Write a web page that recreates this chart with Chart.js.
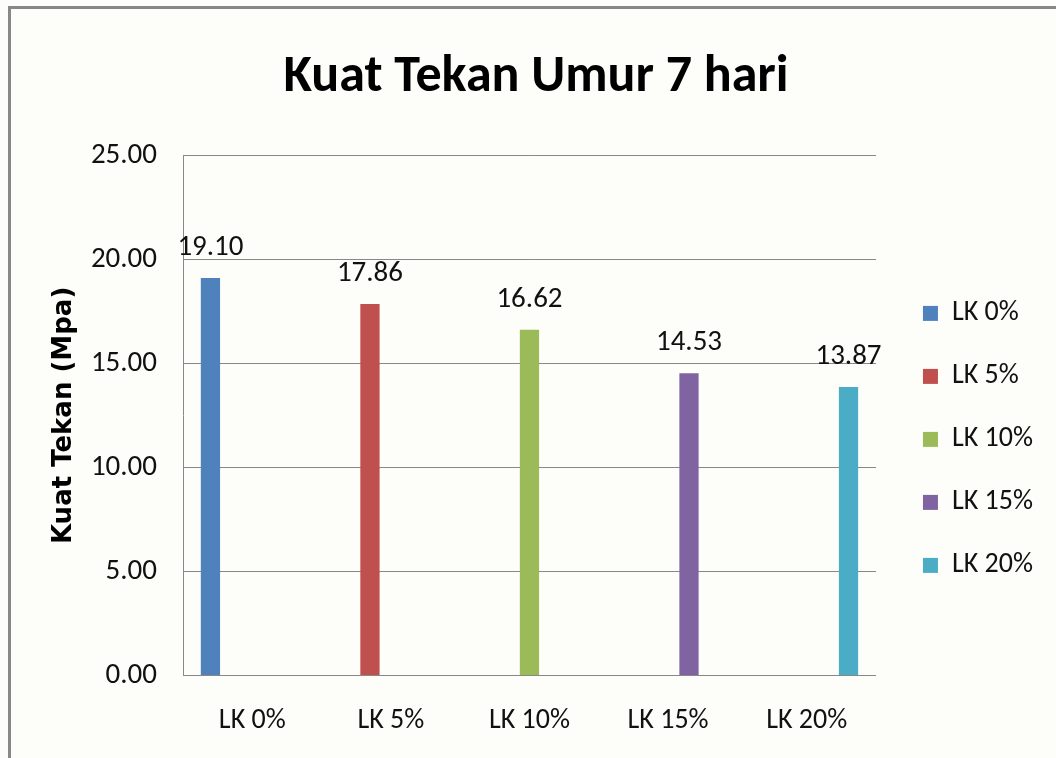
<!DOCTYPE html>
<html>
<head>
<meta charset="utf-8">
<script src="https://cdn.jsdelivr.net/npm/chart.js@4.4.1/dist/chart.umd.min.js"></script>
<style>
  html, body { margin: 0; padding: 0; background: #fdfdf9; overflow: hidden; }
  #wrap { position: relative; width: 1056px; height: 758px; }
  #frame { position: absolute; left: 8px; top: 6px; width: 1100px; height: 800px;
           border-left: 3px solid #888; border-top: 3px solid #888; }
  canvas { position: absolute; left: 0; top: 0; }
</style>
</head>
<body>
<div id="wrap">
  <div id="frame"></div>
  <canvas id="myBarChart" width="1056" height="758"></canvas>
</div>
<script>
// Data grafik
const categories = ['LK 0%', 'LK 5%', 'LK 10%', 'LK 15%', 'LK 20%'];
const values = [19.10, 17.86, 16.62, 14.53, 13.87];
const colors = ['#4f81bd', '#c0504d', '#9bbb59', '#8064a2', '#4bacc6'];
const yTicks = [0, 5, 10, 15, 20, 25];

const narrow = 'Carlito, "Liberation Sans Narrow", "DejaVu Sans Condensed", sans-serif';

// Tiap seri hanya punya nilai di kategorinya sendiri (seperti Excel clustered)
const datasets = categories.map((name, i) => ({
    label: name,
    data: categories.map((c, j) => (j === i ? values[i] : null)),
    backgroundColor: colors[i],
    categoryPercentage: 0.755,
    barPercentage: 0.92
}));

// Plugin label nilai di atas batang
const valueLabels = {
    id: 'valueLabels',
    afterDatasetsDraw(chart) {
        const ctx = chart.ctx;
        ctx.save();
        ctx.font = '29px ' + narrow;
        ctx.fillStyle = '#111';
        ctx.textAlign = 'center';
        ctx.textBaseline = 'alphabetic';
        chart.data.datasets.forEach((ds, i) => {
            const meta = chart.getDatasetMeta(i);
            meta.data.forEach((bar, j) => {
                const v = ds.data[j];
                if (v === null) return;
                ctx.fillText(v.toFixed(2), bar.x, bar.y - 23);
            });
        });
        ctx.restore();
    }
};

const ctx = document.getElementById('myBarChart').getContext('2d');
new Chart(ctx, {
    type: 'bar',
    data: { labels: categories, datasets: datasets },
    options: {
        responsive: false,
        animation: false,
        layout: { padding: { left: 29, right: 13, top: 0, bottom: -1 } },
        plugins: {
            title: {
                display: true,
                text: 'Kuat Tekan Umur 7 hari',
                color: '#000',
                font: { family: narrow, size: 52, weight: 'bold' },
                padding: { top: 47, bottom: 46 }
            },
            legend: {
                display: true,
                position: 'right',
                align: 'start',
                title: { display: true, text: ' ', font: { size: 12 }, padding: { top: 250, bottom: 0 } },
                labels: {
                    boxWidth: 15,
                    boxHeight: 15,
                    padding: 35,
                    color: '#111',
                    font: { family: narrow, size: 28 }
                }
            },
            tooltip: { enabled: false }
        },
        scales: {
            x: {
                grid: { display: false },
                border: { display: true, color: '#888', width: 1 },
                ticks: {
                    color: '#111',
                    padding: 21,
                    font: { family: narrow, size: 28 }
                }
            },
            y: {
                min: 0,
                max: 25,
                afterFit(scale) { scale.width = 154; },
                afterBuildTicks(scale) { scale.ticks = yTicks.map(v => ({ value: v })); },
                grid: { color: '#888', lineWidth: 1, drawTicks: false },
                border: { display: true, color: '#888', width: 1 },
                ticks: {
                    color: '#111',
                    padding: 26,
                    font: { family: narrow, size: 29 },
                    callback: v => Number(v).toFixed(2)
                },
                title: {
                    display: true,
                    text: 'Kuat Tekan (Mpa)',
                    color: '#000',
                    font: { family: '"DejaVu Sans", sans-serif', size: 26, weight: 'bold' },
                    padding: { top: 20, bottom: 0 }
                }
            },
            // sumbu kosong: jarak antara area plot dan legenda
            gap: {
                type: 'linear',
                position: 'right',
                display: true,
                afterFit(scale) { scale.width = 12; },
                grid: { display: false },
                border: { display: false },
                ticks: { display: false }
            }
        }
    },
    plugins: [valueLabels]
});
</script>
</body>
</html>
